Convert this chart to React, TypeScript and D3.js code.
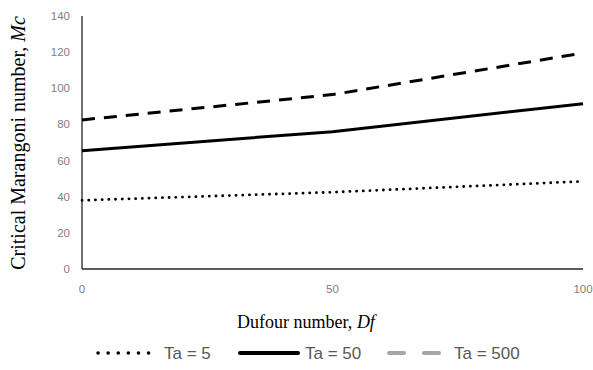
import React, { useRef, useEffect } from "react";
import * as d3 from "d3";

const DUFOUR = [0, 50, 100];
const TA5 = [38, 42.5, 48.5];
const TA50 = [65.5, 76, 91.5];
const TA500 = [82.5, 96.5, 119.5];
const Y_TICKS = [0, 20, 40, 60, 80, 100, 120, 140];
const X_TICKS = [0, 50, 100];
const SERIES_LABELS = ["Ta = 5", "Ta = 50", "Ta = 500"];

const SANS = "'Liberation Sans', Arial, sans-serif";
const SERIF = "'Liberation Serif', 'Times New Roman', serif";

export default function App() {
  const svgRef = useRef<SVGSVGElement | null>(null);

  useEffect(() => {
    const width = 593;
    const height = 370;
    const margin = { top: 16, right: 10, bottom: 101, left: 82 };

    const svg = d3.select(svgRef.current).attr("width", width).attr("height", height);
    svg.selectAll("*").remove();

    const x = d3.scaleLinear().domain([0, 100]).range([margin.left, 583]);
    const y = d3.scaleLinear().domain([0, 140]).range([height - margin.bottom, margin.top]);

    // y tick labels
    svg
      .append("g")
      .selectAll("text")
      .data(Y_TICKS)
      .enter()
      .append("text")
      .attr("x", 70)
      .attr("y", (d) => y(d))
      .attr("dy", "0.35em")
      .attr("text-anchor", "end")
      .style("font-family", SANS)
      .style("font-size", "11.5px")
      .style("fill", "#7f7f7f")
      .text((d) => d);

    // x tick labels
    svg
      .append("g")
      .selectAll("text")
      .data(X_TICKS)
      .enter()
      .append("text")
      .attr("x", (d) => x(d))
      .attr("y", 293)
      .attr("text-anchor", "middle")
      .style("font-family", SANS)
      .style("font-size", "11.5px")
      .style("fill", "#7f7f7f")
      .text((d) => d);

    // axes lines
    svg
      .append("line")
      .attr("x1", x(0))
      .attr("x2", x(0))
      .attr("y1", y(140))
      .attr("y2", y(0))
      .attr("stroke", "#262626")
      .attr("stroke-width", 1.3);
    svg
      .append("line")
      .attr("x1", x(0))
      .attr("x2", x(100))
      .attr("y1", y(0))
      .attr("y2", y(0))
      .attr("stroke", "#262626")
      .attr("stroke-width", 1.3);

    const line = d3
      .line<number>()
      .x((_, i) => x(DUFOUR[i]))
      .y((d) => y(d));

    const styles = [
      { data: TA5, dash: "0.1 6.6", width: 2.8, cap: "round" },
      { data: TA50, dash: null, width: 3, cap: "butt" },
      { data: TA500, dash: "13 9", width: 3, cap: "butt" },
    ];

    styles.forEach((s) => {
      svg
        .append("path")
        .attr("d", line(s.data))
        .attr("fill", "none")
        .attr("stroke", "#000")
        .attr("stroke-width", s.width)
        .attr("stroke-linecap", s.cap)
        .attr("stroke-dasharray", s.dash);
    });

    // axis titles
    svg
      .append("text")
      .attr("transform", `translate(25, 143) rotate(-90)`)
      .attr("text-anchor", "middle")
      .style("font-family", SERIF)
      .style("font-size", "20px")
      .style("fill", "#000")
      .call((t) => {
        t.append("tspan").text("Critical Marangoni number, ");
        t.append("tspan").style("font-style", "italic").text("Mc");
      });

    svg
      .append("text")
      .attr("x", 306)
      .attr("y", 328)
      .attr("text-anchor", "middle")
      .style("font-family", SERIF)
      .style("font-size", "18px")
      .style("fill", "#000")
      .call((t) => {
        t.append("tspan").text("Dufour number, ");
        t.append("tspan").style("font-style", "italic").text("Df");
      });

    // legend
    const legendY = 353;
    const legendItems = [
      { x0: 98, x1: 158, tx: 164, dash: "0.1 10", width: 3.5, cap: "round", color: "#000" },
      { x0: 240, x1: 298, tx: 305, dash: null, width: 4, cap: "round", color: "#000" },
      { x0: 389, x1: 439, tx: 454, dash: "15 20", width: 4, cap: "round", color: "#a6a6a6" },
    ];
    legendItems.forEach((it, i) => {
      svg
        .append("line")
        .attr("x1", it.x0)
        .attr("x2", it.x1)
        .attr("y1", legendY)
        .attr("y2", legendY)
        .attr("stroke", it.color)
        .attr("stroke-width", it.width)
        .attr("stroke-linecap", it.cap)
        .attr("stroke-dasharray", it.dash);
      svg
        .append("text")
        .attr("x", it.tx)
        .attr("y", legendY)
        .attr("dy", "0.35em")
        .style("font-family", SANS)
        .style("font-size", "17px")
        .style("fill", "#595959")
        .text(SERIES_LABELS[i]);
    });
  }, []);

  return <svg ref={svgRef} style={{ position: "absolute", left: 0, top: 0 }}></svg>;
}
